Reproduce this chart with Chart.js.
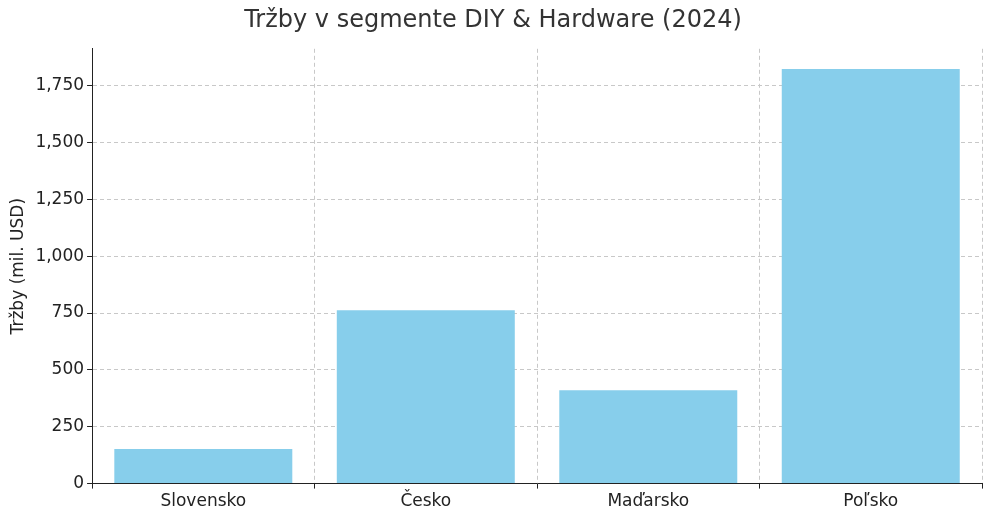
<!DOCTYPE html>
<html>
<head>
<meta charset="utf-8">
<script src="https://cdn.jsdelivr.net/npm/chart.js@4"></script>
<style>
  html, body { margin: 0; padding: 0; background: #fff; }
  #wrap { width: 992px; height: 519px; }
</style>
</head>
<body>
<div id="wrap"><canvas id="chart" width="992" height="519"></canvas></div>
<script>
const countries = ['Slovensko', 'Česko', 'Maďarsko', 'Poľsko'];
const revenue = [152, 762, 411, 1823];
const yTicks = [0, 250, 500, 750, 1000, 1250, 1500, 1750];

const ctx = document.getElementById('chart').getContext('2d');
new Chart(ctx, {
    type: 'bar',
    data: {
        labels: countries,
        datasets: [{
            label: 'Tržby',
            data: revenue,
            backgroundColor: '#87ceeb',
            barPercentage: 0.8,
            categoryPercentage: 1.0
        }]
    },
    options: {
        responsive: false,
        animation: false,
        layout: { padding: { left: 4, right: 10, top: 0, bottom: 4 } },
        plugins: {
            legend: { display: false },
            tooltip: { enabled: false },
            title: {
                display: true,
                text: 'Tržby v segmente DIY & Hardware (2024)',
                color: '#333',
                font: { family: 'DejaVu Sans', size: 24, weight: 'normal' },
                padding: { top: 6, bottom: 14 }
            }
        },
        scales: {
            x: {
                grid: { color: '#c8c8c8', tickLength: 5, tickColor: '#222' },
                border: { color: '#222', dash: [4, 3] },
                ticks: { color: '#222', font: { family: 'DejaVu Sans', size: 17 } }
            },
            y: {
                min: 0,
                max: 1912,
                afterBuildTicks: axis => { axis.ticks = yTicks.map(v => ({ value: v })); },
                grid: { color: '#c8c8c8', tickLength: 5, tickColor: '#222' },
                border: { color: '#222', dash: [4, 3] },
                ticks: { color: '#222', font: { family: 'DejaVu Sans', size: 17 } },
                title: {
                    display: true,
                    text: 'Tržby (mil. USD)',
                    color: '#222',
                    font: { family: 'DejaVu Sans', size: 17 }
                }
            }
        }
    }
});
</script>
</body>
</html>
